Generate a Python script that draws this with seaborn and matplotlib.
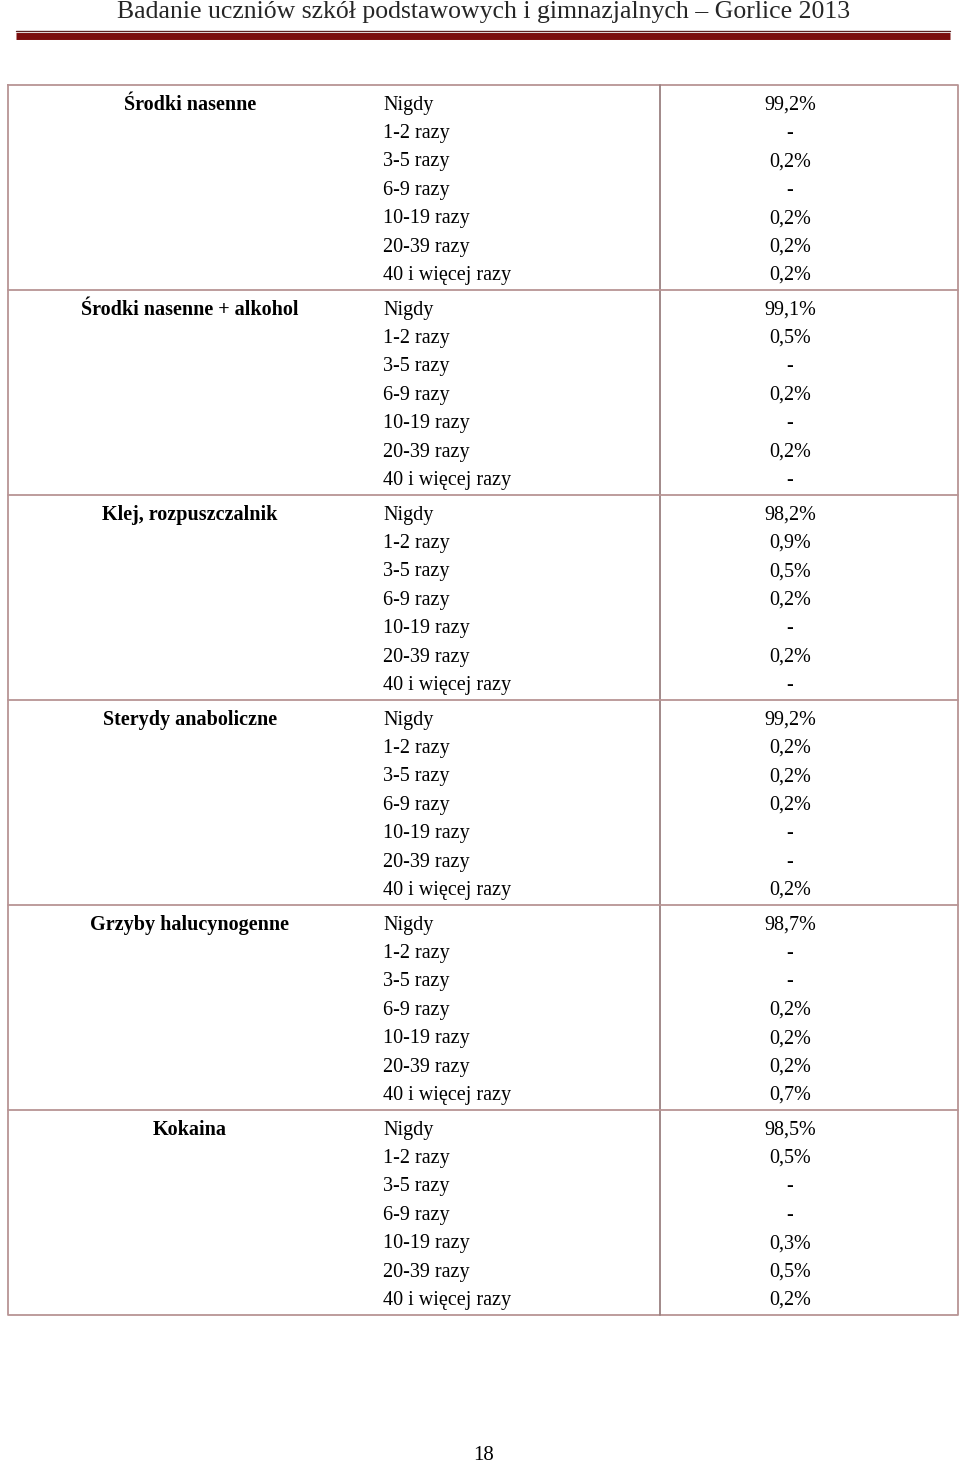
import numpy as np
import matplotlib.pyplot as plt
import seaborn as sns

sns.set_theme(style="white")
plt.rcParams['font.family'] = ['Liberation Serif', 'DejaVu Serif']

title = "Badanie uczniów szkół podstawowych i gimnazjalnych – Gorlice 2013"
page_no = "18"

substances = [
    "Środki nasenne",
    "Środki nasenne + alkohol",
    "Klej, rozpuszczalnik",
    "Sterydy anaboliczne",
    "Grzyby halucynogenne",
    "Kokaina",
]
frequency = ["Nigdy", "1-2 razy", "3-5 razy", "6-9 razy",
             "10-19 razy", "20-39 razy", "40 i więcej razy"]

srodki_nasenne = ["99,2%", "-", "0,2%", "-", "0,2%", "0,2%", "0,2%"]
srodki_alkohol = ["99,1%", "0,5%", "-", "0,2%", "-", "0,2%", "-"]
klej = ["98,2%", "0,9%", "0,5%", "0,2%", "-", "0,2%", "-"]
sterydy = ["99,2%", "0,2%", "0,2%", "0,2%", "-", "-", "0,2%"]
grzyby = ["98,7%", "-", "-", "0,2%", "0,2%", "0,2%", "0,7%"]
kokaina = ["98,5%", "0,5%", "-", "-", "0,3%", "0,5%", "0,2%"]
values = [srodki_nasenne, srodki_alkohol, klej, sterydy, grzyby, kokaina]

W, H = 960, 1466
fig = plt.figure(figsize=(W / 100, H / 100), dpi=100)
ax = fig.add_axes([0, 0, 1, 1])
ax.set_xlim(0, W)
ax.set_ylim(H, 0)
ax.axis("off")

border = "#b89494"
fs = 14.5

# page header
ax.text(484, 18, title, ha="center", va="baseline", fontsize=18.5, color="#262626")
ax.plot([16, 950], [31, 31], color="#5a1f1f", lw=1.0)
ax.plot([16, 950], [36, 36], color="#7a0c0c", lw=5.0, solid_capstyle="butt")

# table frame
top, bottom, left, right, vcol = 84.5, 1315, 8, 958, 659.5
first, group_h, row_h = 109.6, 205, 28.4
ax.plot([left, right, right, left, left], [top, top, bottom, bottom, top],
        color=border, lw=1.3)
ax.plot([vcol, vcol], [top, bottom], color="#9a8080", lw=1.3)
for g in range(1, len(substances)):
    y = 290 + (g - 1) * group_h
    ax.plot([left, right], [y, y], color=border, lw=1.3)

for g, (name, vals) in enumerate(zip(substances, values)):
    y0 = first + g * group_h
    ax.text(190, y0, name, ha="center", va="baseline", fontsize=fs,
            fontweight="bold", color="black")
    for i, (lab, v) in enumerate(zip(frequency, vals)):
        y = y0 + i * row_h
        ax.text(383, y, lab, ha="left", va="baseline", fontsize=fs, color="black")
        ax.text(790, y, v, ha="center", va="baseline", fontsize=fs, color="black")

ax.text(484, 1456, page_no, ha="center", va="center", fontsize=15, color="black")

fig.savefig("out.png", dpi=100)
